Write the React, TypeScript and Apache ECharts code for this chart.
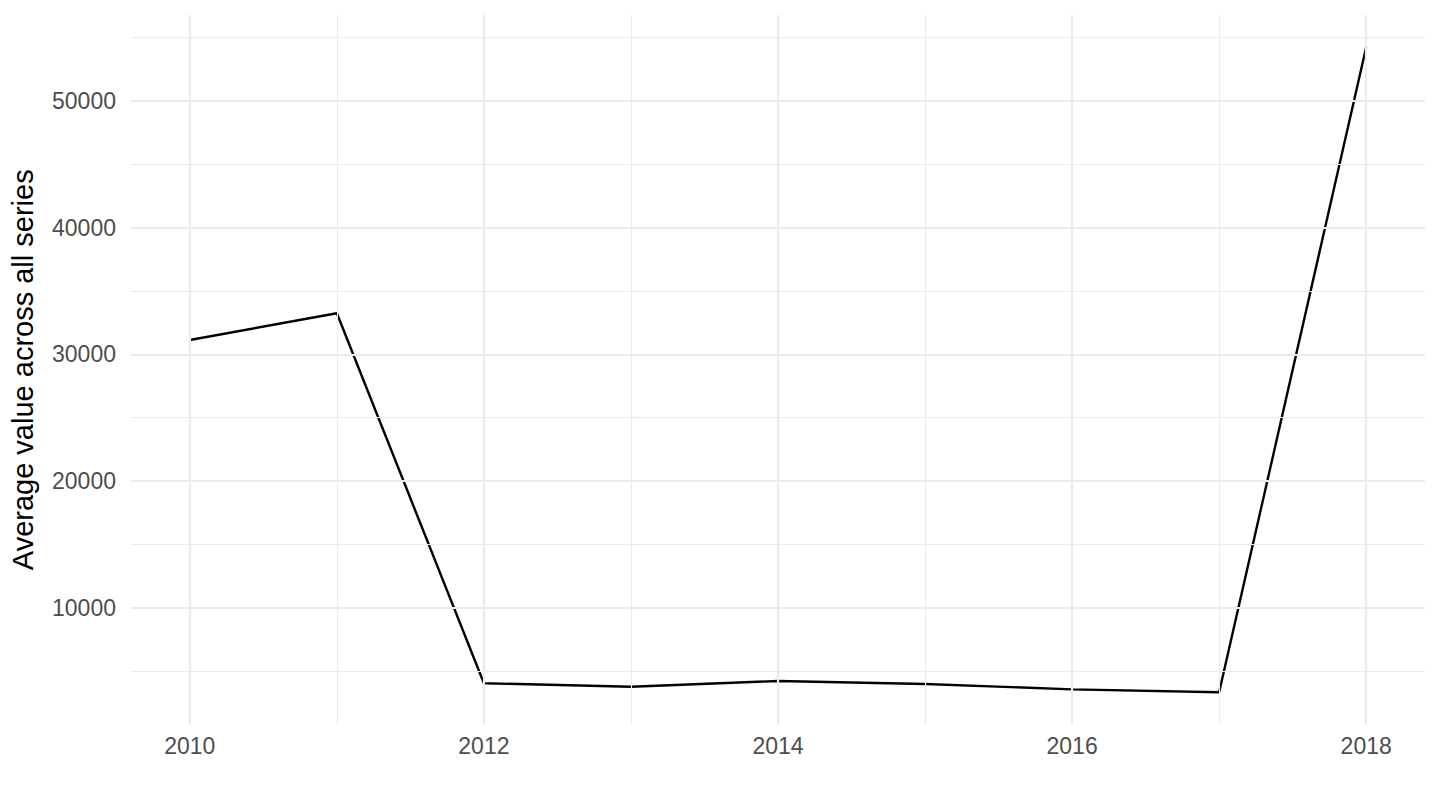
import React, { useEffect, useRef } from "react";
import * as echarts from "echarts";

const years = [2010, 2011, 2012, 2013, 2014, 2015, 2016, 2017, 2018];
const values = [31130, 33240, 4030, 3760, 4210, 3970, 3550, 3320, 54240];

const xTickLabels = [2010, 2012, 2014, 2016, 2018];
const xMinorGrid = [2011, 2013, 2015, 2017];
const yTickLabels = [10000, 20000, 30000, 40000, 50000];
const yMinorGrid = [5000, 15000, 25000, 35000, 45000, 55000];

const yTitle = "Average value across all series";

export default function App() {
  const ref = useRef<HTMLDivElement>(null);

  useEffect(() => {
    if (!ref.current) return;
    const chart = echarts.init(ref.current, undefined, { renderer: "svg" });

    const vMin = Math.min(...values);
    const vMax = Math.max(...values);
    const pad = (vMax - vMin) * 0.05;
    const xPad = (years[years.length - 1] - years[0]) * 0.05;

    const font = "'Liberation Sans', Arial, Helvetica, sans-serif";
    const gridColor = "#EBEBEB";

    const majorMarks = [
      ...yTickLabels.map((v) => ({ yAxis: v })),
      ...xTickLabels.map((v) => ({ xAxis: v })),
    ];
    const minorMarks = [
      ...yMinorGrid.map((v) => ({ yAxis: v })),
      ...xMinorGrid.map((v) => ({ xAxis: v })),
    ];

    const data = years.map((y, i) => [y, values[i]]);

    const gridSeries = (marks: any[], width: number, z: number) => ({
      type: "line",
      data,
      z,
      showSymbol: false,
      silent: true,
      lineStyle: { opacity: 0 },
      markLine: {
        silent: true,
        symbol: ["none", "none"],
        label: { show: false },
        emphasis: { disabled: true },
        lineStyle: { color: gridColor, width, type: "solid", opacity: 1 },
        data: marks,
      },
    });

    chart.setOption({
      animation: false,
      backgroundColor: "#FFFFFF",
      grid: { left: 130, right: 15, top: 15, bottom: 85.5, containLabel: false },
      xAxis: {
        type: "value",
        min: years[0] - xPad,
        max: years[years.length - 1] + xPad,
        axisLine: { show: false },
        axisTick: { show: false },
        splitLine: { show: false },
        axisLabel: {
          customValues: xTickLabels,
          color: "#4D4D4D",
          fontSize: 23,
          fontFamily: font,
          margin: 10,
          formatter: (v: number) => String(Math.round(v)),
        },
      },
      yAxis: {
        type: "value",
        min: vMin - pad,
        max: vMax + pad,
        axisLine: { show: false },
        axisTick: { show: false },
        splitLine: { show: false },
        axisLabel: {
          customValues: yTickLabels,
          color: "#4D4D4D",
          fontSize: 23,
          fontFamily: font,
          margin: 15,
          formatter: (v: number) => String(Math.round(v)),
        },
        name: yTitle,
        nameLocation: "middle",
        nameRotate: 90,
        nameGap: 94,
        nameTextStyle: { color: "#000000", fontSize: 29, fontFamily: font },
      },
      series: [
        gridSeries(minorMarks, 1.1, 1),
        gridSeries(majorMarks, 2.2, 2),
        {
          type: "line",
          data,
          z: 3,
          showSymbol: false,
          silent: true,
          lineStyle: { color: "#000000", width: 2.4 },
        },
      ],
    });

    return () => chart.dispose();
  }, []);

  return (
    <div
      ref={ref}
      style={{ position: "fixed", left: 0, top: 0, width: 1440, height: 810, background: "#fff" }}
    />
  );
}
